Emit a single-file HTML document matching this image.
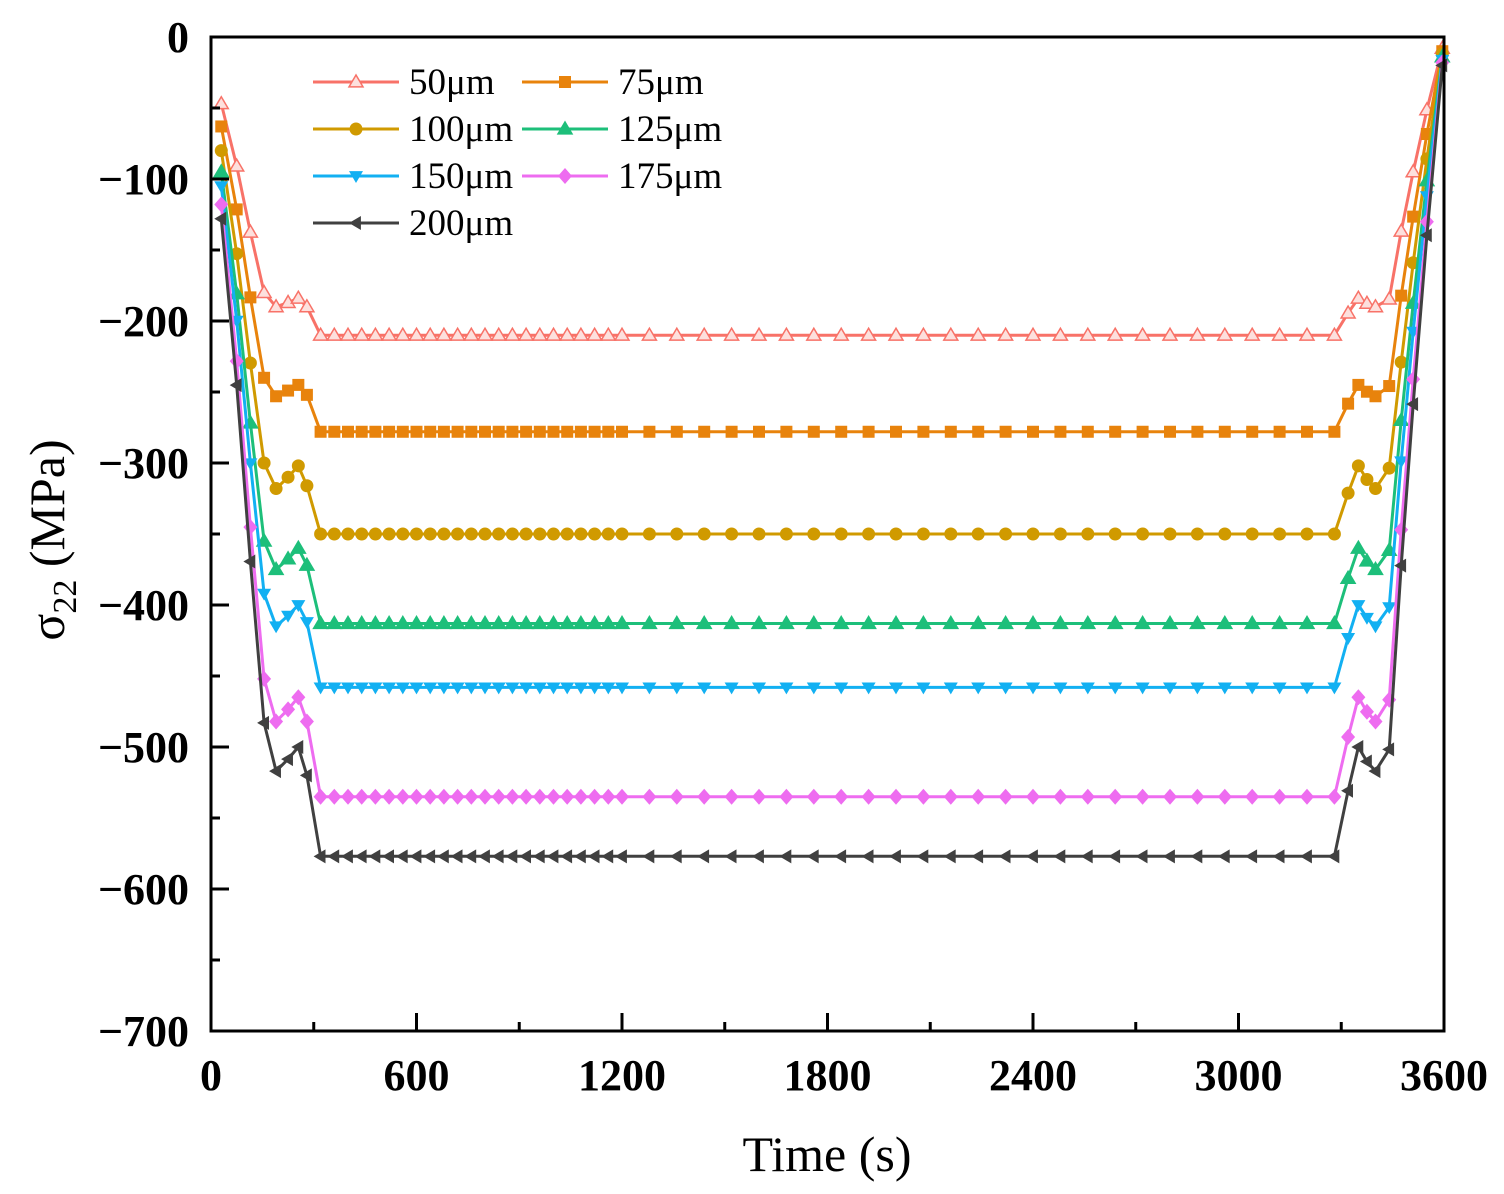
<!DOCTYPE html>
<html><head><meta charset="utf-8"><style>
html,body{margin:0;padding:0;background:#fff;}
svg{display:block;}
text{font-family:"Liberation Serif",serif;fill:#000;}
</style></head><body>
<svg id="s" width="1504" height="1194" xmlns="http://www.w3.org/2000/svg">
<rect x="0" y="0" width="1504" height="1194" fill="#fff"/>
<g id="plot"></g>
<rect x="211" y="37" width="1233" height="994" fill="none" stroke="#000" stroke-width="3"/>
<g id="ticks" stroke="#000" stroke-width="3"></g>
<g font-weight="bold" font-size="44" text-anchor="end">
<text x="189" y="52">0</text>
<text x="189" y="194">−100</text>
<text x="189" y="336">−200</text>
<text x="189" y="478">−300</text>
<text x="189" y="620">−400</text>
<text x="189" y="762">−500</text>
<text x="189" y="904">−600</text>
<text x="189" y="1046">−700</text>
</g>
<g font-weight="bold" font-size="44" text-anchor="middle">
<text x="211" y="1090">0</text>
<text x="416.5" y="1090">600</text>
<text x="622" y="1090">1200</text>
<text x="827.5" y="1090">1800</text>
<text x="1033" y="1090">2400</text>
<text x="1238.5" y="1090">3000</text>
<text x="1444" y="1090">3600</text>
</g>
<text x="827" y="1171" font-size="50" text-anchor="middle">Time (s)</text>
<text transform="translate(64,540) rotate(-90)" font-size="50" text-anchor="middle">σ<tspan font-size="34" dy="12">22</tspan><tspan dy="-12"> (MPa)</tspan></text>
<g id="legend" font-size="37"></g>
</svg>
<script>
var NS="http://www.w3.org/2000/svg";
function el(p,n,a){var e=document.createElementNS(NS,n);for(var k in a)e.setAttribute(k,a[k]);p.appendChild(e);return e;}
function X(t){return 211+t*1233/3600;}
function Y(v){return 37+(-v)*994/700;}
var tk=document.getElementById('ticks');
for(var v=0;v>=-700;v-=50){var y=Y(v);var L=(v%100==0)?18:9;el(tk,'line',{x1:211,x2:211+L,y1:y,y2:y});}
for(var t=0;t<=3600;t+=300){var x=X(t);var L=(t%600==0)?18:9;el(tk,'line',{x1:x,x2:x,y1:1031,y2:1031-L});}
var S=[
 {n:'50μm',c:'#f87268',f:'#fde0dd',m:'tu',s:-47,pre:-180,mn:-190,b:-184,a:-190,P:-210},
 {n:'75μm',c:'#e8830c',m:'sq',s:-63,pre:-240,mn:-253,b:-245,a:-252,P:-278},
 {n:'100μm',c:'#d09a00',m:'ci',s:-80,pre:-300,mn:-318,b:-302,a:-316,P:-350},
 {n:'125μm',c:'#1dbf7a',m:'tu',s:-95,pre:-355,mn:-375,b:-360,a:-372,P:-413},
 {n:'150μm',c:'#12b0f2',m:'td',s:-105,pre:-392,mn:-415,b:-400,a:-412,P:-458},
 {n:'175μm',c:'#ee6cf0',m:'di',s:-118,pre:-452,mn:-482,b:-465,a:-482,P:-535},
 {n:'200μm',c:'#404040',m:'tl',s:-128,pre:-483,mn:-517,b:-500,a:-520,P:-577}
];
function marker(g,m,x,y,c,f){
 var r=7;
 if(m=='tu')el(g,'polygon',{points:(x)+','+(y-r)+' '+(x-r)+','+(y+r*0.7)+' '+(x+r)+','+(y+r*0.7),fill:f||c,stroke:c,'stroke-width':1.5});
 else if(m=='td')el(g,'polygon',{points:(x)+','+(y+r)+' '+(x-r)+','+(y-r*0.7)+' '+(x+r)+','+(y-r*0.7),fill:c});
 else if(m=='tl')el(g,'polygon',{points:(x-r)+','+y+' '+(x+r*0.7)+','+(y-r)+' '+(x+r*0.7)+','+(y+r),fill:c});
 else if(m=='sq')el(g,'rect',{x:x-6,y:y-6,width:12,height:12,fill:c});
 else if(m=='ci')el(g,'circle',{cx:x,cy:y,r:6.5,fill:c});
 else if(m=='di')el(g,'polygon',{points:x+','+(y-8)+' '+(x+7)+','+y+' '+x+','+(y+8)+' '+(x-7)+','+y,fill:c});
}
var pg=document.getElementById('plot');
S.forEach(function(s,i){
 var pts=[];
 function lerp(a,b,u){return a+(b-a)*u;}
 pts.push([30,s.s]);
 pts.push([75,lerp(s.s,s.pre,0.33)]);
 pts.push([115,lerp(s.s,s.pre,0.68)]);
 pts.push([155,s.pre]);
 pts.push([190,s.mn]);
 pts.push([225,lerp(s.mn,s.b,0.5)]);
 pts.push([255,s.b]);
 pts.push([280,s.a]);
 for(var t=320;t<1200;t+=40)pts.push([t,s.P]);
 for(var t=1200;t<=3280;t+=80)pts.push([t,s.P]);
 pts.push([3320,lerp(s.P,s.b,0.6)]);
 pts.push([3350,s.b]);
 pts.push([3375,lerp(s.b,s.mn,0.6)]);
 pts.push([3400,s.mn]);
 pts.push([3440,lerp(s.mn,s.b,0.9)]);
 pts.push([3475,s.mn*0.72]);
 pts.push([3510,s.mn*0.5]);
 pts.push([3550,s.mn*0.27]);
 pts.push([3595,-8-i*2]);
 var d=pts.map(function(p,j){return (j?'L':'M')+X(p[0]).toFixed(1)+','+Y(p[1]).toFixed(1);}).join('');
 var g=el(pg,'g',{});
 el(g,'path',{d:d,fill:'none',stroke:s.c,'stroke-width':3,'stroke-linejoin':'round'});
 pts.forEach(function(p){marker(g,s.m,X(p[0]),Y(p[1]),s.c,s.f);});
});
var lg=document.getElementById('legend');
S.forEach(function(s,i){
 var col=i%2,row=Math.floor(i/2);
 var x0=col?522:313,y=82+row*47;
 el(lg,'line',{x1:x0,x2:x0+86,y1:y,y2:y,stroke:s.c,'stroke-width':3});
 marker(lg,s.m,x0+43,y,s.c,s.f);
 var t=el(lg,'text',{x:x0+96,y:y+12});t.textContent=s.n;
});
</script>
</body></html>
